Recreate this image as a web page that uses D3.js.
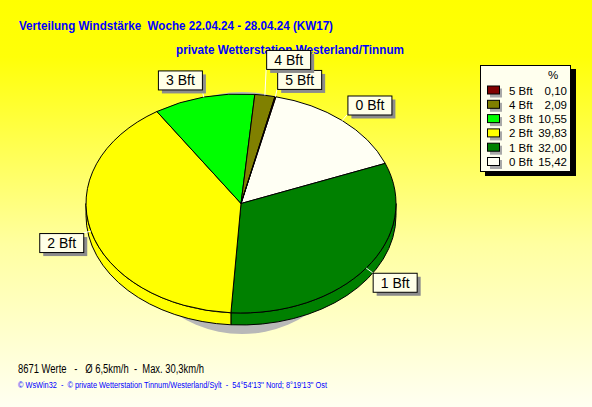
<!DOCTYPE html>
<html><head><meta charset="utf-8">
<script src="https://cdn.jsdelivr.net/npm/d3@7"></script>
<style>html,body{margin:0;padding:0;overflow:hidden;}svg{display:block;}text{white-space:pre;}</style>
</head><body>
<script>
const categories = ["0 Bft","1 Bft","2 Bft","3 Bft","4 Bft","5 Bft"];
const values = [15.42, 32.00, 39.83, 10.55, 2.09, 0.10];
const valueLabels = ["15,42","32,00","39,83","10,55","2,09","0,10"];
const colors = ["#fffff4","#008000","#ffff00","#00ff00","#808000","#800000"];
const title1 = "Verteilung Windstärke  Woche 22.04.24 - 28.04.24 (KW17)";
const title2 = "private Wetterstation Westerland/Tinnum";
const footer1 = "8671 Werte   -   Ø 6,5km/h  -  Max. 30,3km/h";
const footer2 = "© WsWin32  -  © private Wetterstation Tinnum/Westerland/Sylt  -  54°54'13'' Nord; 8°19'13'' Ost";

const W = 592, H = 407;
const svg = d3.select("body").append("svg").attr("width", W).attr("height", H);
const defs = svg.append("defs");
const grad = defs.append("linearGradient").attr("id","bg").attr("x1",0).attr("y1",0).attr("x2",0).attr("y2",1);
grad.append("stop").attr("offset","0").attr("stop-color","#ffff00");
grad.append("stop").attr("offset","0.14").attr("stop-color","#ffff08");
grad.append("stop").attr("offset","0.6").attr("stop-color","#ffffa0");
grad.append("stop").attr("offset","1").attr("stop-color","#fffff2");
svg.append("rect").attr("width",W).attr("height",H).attr("fill","url(#bg)");

const font = "'Liberation Sans', Arial, sans-serif";

// Titles
svg.append("text").attr("x",19).attr("y",30).attr("font-family",font).attr("font-weight","bold")
  .attr("font-size",13).attr("fill","#0000ff").attr("textLength",314).attr("lengthAdjust","spacingAndGlyphs").text(title1);
svg.append("text").attr("x",176).attr("y",54).attr("font-family",font).attr("font-weight","bold")
  .attr("font-size",13).attr("fill","#0000ff").attr("textLength",228).attr("lengthAdjust","spacingAndGlyphs").text(title2);

// Footer
svg.append("text").attr("x",18).attr("y",373).attr("font-family",font).attr("font-size",12)
  .attr("fill","#000").attr("textLength",186).attr("lengthAdjust","spacingAndGlyphs").text(footer1);
svg.append("text").attr("x",18).attr("y",388).attr("font-family",font).attr("font-size",8.5)
  .attr("fill","#0000ff").attr("textLength",309).attr("lengthAdjust","spacingAndGlyphs").text(footer2);

// Pie geometry
const cx = 241, cy = 203.5, rx = 155, ry = 109.5, depth = 12;
const start = 13 * Math.PI / 180;
const pie = d3.pie().sort(null).value(d => d).startAngle(start).endAngle(start + 2*Math.PI);
const arcs = pie(values).map((a,i) => Object.assign(a, {i}));
const pt = (a, dy=0) => [cx + rx*Math.sin(a), cy - ry*Math.cos(a) + dy];

// shadow
svg.append("ellipse").attr("cx",242).attr("cy",213).attr("rx",120).attr("ry",121).attr("fill","#b8b8b8");

// sides
const g = svg.append("g");
arcs.forEach(a => {
  [0, 2*Math.PI].forEach(k => {
    const a0 = Math.max(a.startAngle, Math.PI/2 + k), a1 = Math.min(a.endAngle, 1.5*Math.PI + k);
    if (a1 - a0 <= 1e-6) return;
    const p0 = pt(a0), p1 = pt(a1), q1 = pt(a1, depth), q0 = pt(a0, depth);
    const d = `M${p0}A${rx},${ry} 0 0 1 ${p1}L${q1}A${rx},${ry} 0 0 0 ${q0}Z`;
    g.append("path").attr("d", d).attr("fill", colors[a.i]).attr("stroke","#000").attr("stroke-width",1);
  });
});
// top faces
arcs.forEach(a => {
  const p0 = pt(a.startAngle), p1 = pt(a.endAngle);
  const large = (a.endAngle - a.startAngle) > Math.PI ? 1 : 0;
  const d = `M${cx},${cy}L${p0}A${rx},${ry} 0 ${large} 1 ${p1}Z`;
  g.append("path").attr("d", d).attr("fill", colors[a.i]).attr("stroke","#000").attr("stroke-width",1);
});

// labels
const lg = svg.append("g");
const placed = [];
const order = arcs.slice().reverse();
order.forEach(a => {
  const mid = (a.startAngle + a.endAngle)/2;
  const [ax, ay] = pt(mid);
  const dx = Math.sin(mid), dy = -Math.cos(mid);
  const gap = 8;
  const t = lg.append("text").attr("font-family",font).attr("font-size",14).attr("fill","#000").text(categories[a.i]);
  const tw = t.node().getComputedTextLength();
  const bw = Math.round(tw + 15), bh = 19;
  let cxr = ax + dx*gap, cyr = ay + dy*gap;
  let x0 = dx >= 0 ? cxr : cxr - bw;
  let y0 = dy >= 0 ? cyr : cyr - bh;
  const overlaps = (b) => placed.some(p => x0 < p.x + p.w && x0 + bw > p.x && y0 < p.y + p.h && y0 + bh > p.y);
  let guard = 0;
  while (overlaps() && guard++ < 200) {
    const hit = placed.find(p => x0 < p.x + p.w && x0 + bw > p.x && y0 < p.y + p.h && y0 + bh > p.y);
    if (dy < 0) y0 = hit.y - bh - 1; else y0 = hit.y + hit.h + 1;
  }
  placed.push({x:x0, y:y0, w:bw, h:bh});
  const cornerX = dx >= 0 ? x0 : x0 + bw;
  const cornerY = dy >= 0 ? y0 : y0 + bh;
  lg.append("line").attr("x1",ax).attr("y1",ay).attr("x2",cornerX).attr("y2",cornerY)
    .attr("stroke","#fff").attr("stroke-width",1);
  lg.append("rect").attr("x",x0+4).attr("y",y0+4).attr("width",bw).attr("height",bh).attr("fill","#8c8c8c");
  lg.append("rect").attr("x",x0+0.5).attr("y",y0+0.5).attr("width",bw).attr("height",bh)
    .attr("fill","#ffffe8").attr("stroke","#000").attr("stroke-width",1);
  t.raise().attr("x", x0 + bw/2 + 0.5).attr("y", y0 + 15).attr("text-anchor","middle");
});

// legend
const leg = svg.append("g");
leg.append("rect").attr("x",485).attr("y",69).attr("width",91).attr("height",107).attr("fill","#000");
leg.append("rect").attr("x",480.5).attr("y",65.5).attr("width",90).attr("height",106)
  .attr("fill","#ffffee").attr("stroke","#000").attr("stroke-width",1);
leg.append("text").attr("x",553).attr("y",79).attr("font-family",font).attr("font-size",11.5)
  .attr("text-anchor","middle").text("%");
const legOrder = d3.range(categories.length).reverse();
legOrder.forEach((i, r) => {
  const by = 94.5 + r*14.3;
  leg.append("rect").attr("x",490).attr("y",by-6).attr("width",12).attr("height",9).attr("fill","#a8a8a8");
  leg.append("rect").attr("x",487.5).attr("y",by-8.5).attr("width",12).attr("height",8)
    .attr("fill",colors[i]).attr("stroke","#000").attr("stroke-width",1);
  leg.append("text").attr("x",509).attr("y",by).attr("font-family",font).attr("font-size",11.5).text(categories[i]);
  leg.append("text").attr("x",567).attr("y",by).attr("font-family",font).attr("font-size",11.5)
    .attr("text-anchor","end").text(valueLabels[i]);
});
</script>
</body></html>
